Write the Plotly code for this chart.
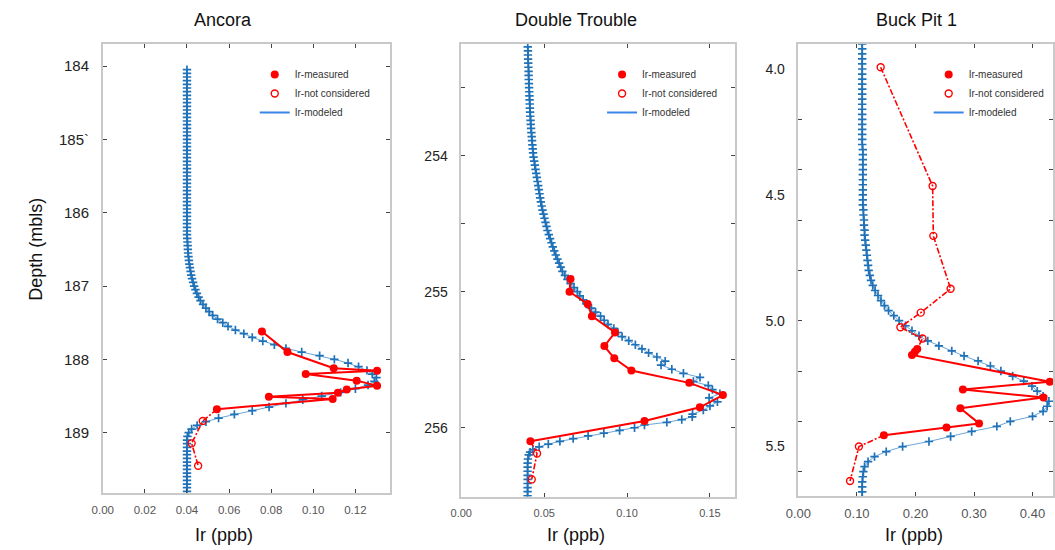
import plotly.graph_objects as go

# ---------------- Ancora ----------------
anc_model_depth = [
    184.05, 184.10, 184.15, 184.20, 184.25, 184.30, 184.35, 184.40, 184.45, 184.50,
    184.55, 184.60, 184.65, 184.70, 184.75, 184.80, 184.85, 184.90, 184.95, 185.00,
    185.05, 185.10, 185.15, 185.20, 185.25, 185.30, 185.35, 185.40, 185.45, 185.50,
    185.55, 185.60, 185.65, 185.70, 185.75, 185.80, 185.85, 185.90, 185.95, 186.00,
    186.05, 186.10, 186.15, 186.20, 186.25, 186.30,
    186.35, 186.40, 186.45, 186.50, 186.55, 186.60, 186.65, 186.70, 186.75, 186.80,
    186.85, 186.90, 186.95, 187.00, 187.05, 187.10, 187.15, 187.20, 187.25, 187.30,
    187.35, 187.40, 187.45, 187.50, 187.55, 187.60, 187.65, 187.70, 187.75, 187.80,
    187.85, 187.90, 187.95, 188.00, 188.05, 188.10, 188.15, 188.20, 188.25, 188.30,
    188.35, 188.40, 188.45, 188.50, 188.55, 188.60, 188.65, 188.70, 188.75, 188.80,
    188.85, 188.90, 188.95, 189.00, 189.05, 189.10,
    189.15, 189.20, 189.25, 189.30, 189.35, 189.40, 189.45, 189.50, 189.55, 189.60,
    189.65, 189.70, 189.75, 189.80,
]
anc_model_ir = [
    0.040, 0.040, 0.040, 0.040, 0.040, 0.040, 0.040, 0.040, 0.040, 0.040,
    0.040, 0.040, 0.040, 0.040, 0.040, 0.040, 0.040, 0.040, 0.040, 0.040,
    0.040, 0.040, 0.040, 0.040, 0.040, 0.040, 0.040, 0.040, 0.040, 0.040,
    0.040, 0.040, 0.040, 0.040, 0.040, 0.040, 0.040, 0.040, 0.040, 0.040,
    0.040, 0.040, 0.040, 0.040, 0.040, 0.040,
    0.0401, 0.0402, 0.0403, 0.0404, 0.0405, 0.0407, 0.0409, 0.0411, 0.0414, 0.0417,
    0.0420, 0.0424, 0.0429, 0.0434, 0.0440, 0.0447, 0.0455, 0.0464, 0.0476, 0.0490,
    0.0505, 0.0522, 0.0545, 0.0570, 0.0595, 0.0630, 0.0670, 0.0710, 0.0760, 0.0815,
    0.0870, 0.0945, 0.1030, 0.1100, 0.1165, 0.1215, 0.1255, 0.1280, 0.1300, 0.1290,
    0.1260, 0.1200, 0.1130, 0.1040, 0.0950, 0.0870, 0.0790, 0.0710, 0.0625, 0.0550,
    0.0490, 0.0448, 0.0422, 0.0408, 0.0402, 0.0400,
    0.040, 0.040, 0.040, 0.040, 0.040, 0.040, 0.040, 0.040, 0.040, 0.040,
    0.040, 0.040, 0.040, 0.040,
]
anc_meas_depth = [187.62, 187.90, 188.12, 188.155, 188.20, 188.29, 188.36, 188.41, 188.455, 188.51, 188.54, 188.68]
anc_meas_ir = [0.0756, 0.0877, 0.1097, 0.1303, 0.0964, 0.1206, 0.1303, 0.1159, 0.1117, 0.0789, 0.1092, 0.0542]
anc_nc_above_depth = []
anc_nc_above_ir = []
anc_nc_below_depth = [188.84, 189.145, 189.45]
anc_nc_below_ir = [0.0475, 0.0422, 0.0453]

# ---------------- Double Trouble ----------------
dt_model_depth = [
    253.20, 253.23, 253.26, 253.29, 253.32, 253.35, 253.38, 253.41, 253.44, 253.47,
    253.50, 253.53, 253.56, 253.59, 253.62, 253.65, 253.68, 253.71, 253.74, 253.77,
    253.80, 253.83, 253.86, 253.89, 253.92, 253.95, 253.98, 254.01, 254.04, 254.07,
    254.10, 254.13, 254.16, 254.19, 254.22, 254.25, 254.28, 254.31, 254.34, 254.37,
    254.40, 254.43, 254.46, 254.49, 254.52, 254.55, 254.58, 254.61, 254.64, 254.67,
    254.70, 254.73, 254.76, 254.79, 254.82, 254.85, 254.88, 254.91, 254.94, 254.97,
    255.00, 255.03, 255.06, 255.09, 255.12, 255.15, 255.18, 255.21, 255.24, 255.27,
    255.30, 255.33, 255.36, 255.39, 255.42, 255.45, 255.48, 255.51, 255.54, 255.57,
    255.60, 255.63, 255.66, 255.69, 255.72, 255.75, 255.78, 255.81, 255.84, 255.87,
    255.90,
    255.92, 255.94, 255.96, 255.98, 256.00, 256.02, 256.04, 256.06, 256.08, 256.10,
    256.12, 256.14, 256.16, 256.18, 256.20,
    256.23, 256.26, 256.29, 256.32, 256.35, 256.38, 256.41, 256.44, 256.47, 256.50,
]
dt_model_ir = [
    0.0401, 0.0402, 0.0402, 0.0403, 0.0404, 0.0405, 0.0406, 0.0406, 0.0407, 0.0408,
    0.0409, 0.0410, 0.0411, 0.0412, 0.0413, 0.0414, 0.0415, 0.0416, 0.0418, 0.0419,
    0.0421, 0.0423, 0.0425, 0.0427, 0.0429, 0.0431, 0.0433, 0.0436, 0.0440, 0.0444,
    0.0448, 0.0452, 0.0456, 0.0460, 0.0464, 0.0468, 0.0472, 0.0476, 0.0480, 0.0485,
    0.0490, 0.0496, 0.0502, 0.0508, 0.0514, 0.0520, 0.0528, 0.0536, 0.0544, 0.0552,
    0.0561, 0.0570, 0.0580, 0.0590, 0.0600, 0.0610, 0.0625, 0.0640, 0.0660, 0.0680,
    0.0700, 0.0715, 0.0735, 0.0755, 0.0785, 0.0810, 0.0840, 0.0862, 0.0885, 0.0920,
    0.0945, 0.0970, 0.1010, 0.1050, 0.1090, 0.1130, 0.1180, 0.1230, 0.1205, 0.1270,
    0.1340, 0.1440, 0.1400, 0.1490, 0.1515, 0.1560, 0.1495, 0.1545, 0.1500, 0.1460,
    0.1395,
    0.1393, 0.1330, 0.1240, 0.1105, 0.1045, 0.0955, 0.0860, 0.0765, 0.0675, 0.0595,
    0.0525, 0.0470, 0.0432, 0.0415, 0.0407,
    0.0402, 0.0400, 0.0400, 0.0400, 0.0400, 0.0400, 0.0400, 0.0400, 0.0400, 0.0400,
]
dt_meas_depth = [254.906, 255.00, 255.09, 255.18, 255.30, 255.40, 255.49, 255.58, 255.67, 255.76, 255.85, 255.95, 256.10]
dt_meas_ir = [0.0659, 0.0653, 0.0762, 0.0788, 0.0927, 0.0863, 0.0923, 0.1026, 0.1375, 0.1578, 0.1439, 0.1105, 0.0417]
dt_nc_above_depth = []
dt_nc_above_ir = []
dt_nc_below_depth = [256.19, 256.38]
dt_nc_below_ir = [0.0457, 0.0425]

# ---------------- Buck Pit 1 ----------------
bp_model_depth = [
    3.90, 3.92, 3.94, 3.96, 3.98, 4.00, 4.02, 4.04, 4.06, 4.08,
    4.10, 4.12, 4.14, 4.16, 4.18, 4.20, 4.22, 4.24, 4.26, 4.28,
    4.30, 4.32, 4.34, 4.36, 4.38, 4.40, 4.42, 4.44, 4.46, 4.48,
    4.50, 4.52, 4.54, 4.56, 4.58, 4.60, 4.62, 4.64, 4.66, 4.68,
    4.70, 4.72, 4.74, 4.76, 4.78, 4.80, 4.82, 4.84, 4.86, 4.88,
    4.90, 4.92, 4.94, 4.96, 4.98, 5.00, 5.02, 5.04, 5.06, 5.08,
    5.10, 5.12, 5.14, 5.16, 5.18, 5.20, 5.22, 5.24, 5.26, 5.28,
    5.30, 5.32, 5.34, 5.36, 5.38, 5.40, 5.42, 5.44, 5.46, 5.48,
    5.50, 5.52, 5.54, 5.56, 5.58, 5.60, 5.62, 5.64, 5.66, 5.68,
    5.70,
]
bp_model_ir = [
    0.109, 0.109, 0.109, 0.109, 0.109, 0.109, 0.109, 0.109, 0.109, 0.109,
    0.109, 0.109, 0.109, 0.109, 0.109, 0.109, 0.109, 0.109, 0.109, 0.109,
    0.109, 0.110, 0.110, 0.110, 0.110, 0.110, 0.110, 0.110, 0.110, 0.110,
    0.110, 0.110, 0.110, 0.111, 0.111, 0.112, 0.112, 0.113, 0.113, 0.114,
    0.115, 0.116, 0.117, 0.118, 0.119, 0.120, 0.122, 0.124, 0.127, 0.131,
    0.136, 0.141, 0.147, 0.154, 0.163, 0.172, 0.183, 0.194, 0.206, 0.221,
    0.240, 0.262, 0.283, 0.307, 0.328, 0.346, 0.366, 0.385, 0.399, 0.408,
    0.418, 0.428, 0.425, 0.418, 0.400, 0.362, 0.339, 0.296, 0.260, 0.223,
    0.178, 0.150, 0.130, 0.119, 0.113, 0.111, 0.110, 0.109, 0.109, 0.109,
    0.109,
]
bp_meas_depth = [5.112, 5.123, 5.136, 5.243, 5.273, 5.305, 5.348, 5.408, 5.424, 5.455]
bp_meas_ir = [0.203, 0.199, 0.194, 0.4295, 0.281, 0.4187, 0.2766, 0.3086, 0.253, 0.146]
bp_nc_above_depth = [3.993, 4.465, 4.663, 4.873, 4.968, 5.026, 5.071]
bp_nc_above_ir = [0.1405, 0.2293, 0.2305, 0.260, 0.209, 0.1742, 0.212]
bp_nc_below_depth = [5.50, 5.637]
bp_nc_below_ir = [0.1034, 0.0882]

site_names = ["Ancora", "Double Trouble", "Buck Pit 1"]
legend_labels = ["Ir-measured", "Ir-not considered", "Ir-modeled"]

RED = "#ff0000"
BLUE_MARK = "#1f72b8"
BLUE_LINE = "#6aa6da"
LEG_BLUE = "#3a86e8"
FONT = "Arial, Liberation Sans, Helvetica, sans-serif"

sites = [
    (anc_model_depth, anc_model_ir, anc_meas_depth, anc_meas_ir,
     anc_nc_above_depth, anc_nc_above_ir, anc_nc_below_depth, anc_nc_below_ir),
    (dt_model_depth, dt_model_ir, dt_meas_depth, dt_meas_ir,
     dt_nc_above_depth, dt_nc_above_ir, dt_nc_below_depth, dt_nc_below_ir),
    (bp_model_depth, bp_model_ir, bp_meas_depth, bp_meas_ir,
     bp_nc_above_depth, bp_nc_above_ir, bp_nc_below_depth, bp_nc_below_ir),
]

W, H = 1055, 550
# plot-area pixel boxes (left, right, top, bottom)
boxes = [(91, 382, 44, 493), (454.3, 731.7, 44, 496.7), (796, 1054, 44, 496)]
xranges = [[0, 0.1364], [0, 0.1651], [0, 0.435]]
yranges = [[189.822, 183.70], [256.507, 253.179], [5.6965, 3.9007]]
xtick_font = [11.5, 11, 13]
ytick_font = [15, 14, 14]

fig = go.Figure()

for i, (md, mi, sd, si, ad, ai, bd, bi) in enumerate(sites):
    ax = "" if i == 0 else str(i + 1)
    xa, ya = "x" + ax, "y" + ax
    leg = "legend" if i == 0 else "legend" + str(i + 1)
    # modeled curve
    fig.add_trace(go.Scatter(
        x=mi, y=md, xaxis=xa, yaxis=ya, mode="lines+markers",
        line=dict(color=BLUE_LINE, width=1),
        marker=dict(symbol="cross-thin", size=6, color=BLUE_MARK,
                    line=dict(width=1.7, color=BLUE_MARK)),
        showlegend=False, hoverinfo="skip"))
    # dashed links for not-considered samples
    if ad:
        fig.add_trace(go.Scatter(
            x=ai + [si[0]], y=ad + [sd[0]], xaxis=xa, yaxis=ya, mode="lines",
            line=dict(color=RED, width=1.6, dash="6px,2px,2px,2px"),
            showlegend=False, hoverinfo="skip"))
    if bd:
        fig.add_trace(go.Scatter(
            x=[si[-1]] + bi, y=[sd[-1]] + bd, xaxis=xa, yaxis=ya, mode="lines",
            line=dict(color=RED, width=1.6, dash="6px,2px,2px,2px"),
            showlegend=False, hoverinfo="skip"))
    # measured
    fig.add_trace(go.Scatter(
        x=si, y=sd, xaxis=xa, yaxis=ya, mode="lines+markers",
        line=dict(color=RED, width=2),
        marker=dict(symbol="circle", size=8, color=RED),
        showlegend=False))
    # not considered markers
    fig.add_trace(go.Scatter(
        x=ai + bi, y=ad + bd, xaxis=xa, yaxis=ya, mode="markers",
        marker=dict(symbol="circle-open", size=7, color=RED, line=dict(width=1.4)),
        showlegend=False))
    # legend entries
    fig.add_trace(go.Scatter(x=[None], y=[None], xaxis=xa, yaxis=ya, mode="markers",
                             marker=dict(symbol="circle", size=8, color=RED),
                             name=legend_labels[0], legend=leg))
    fig.add_trace(go.Scatter(x=[None], y=[None], xaxis=xa, yaxis=ya, mode="markers",
                             marker=dict(symbol="circle-open", size=7, color=RED, line=dict(width=1.4)),
                             name=legend_labels[1], legend=leg))
    fig.add_trace(go.Scatter(x=[None], y=[None], xaxis=xa, yaxis=ya, mode="lines",
                             line=dict(color=LEG_BLUE, width=2),
                             name=legend_labels[2], legend=leg))

axis_common = dict(showline=True, linecolor="#c9c9c9", linewidth=1.5, mirror="ticks",
                   ticks="inside", ticklen=4, tickcolor="#444", tickwidth=1,
                   showgrid=False, zeroline=False)

layout = dict(width=W, height=H, margin=dict(l=0, r=0, t=0, b=0),
              plot_bgcolor="white", paper_bgcolor="white",
              font=dict(family=FONT, color="#222"))

xticks = [dict(dtick=0.02, tickformat=".2f"), dict(dtick=0.05, tickformat=".2f"),
          dict(dtick=0.1, tickformat=".2f")]
yticks = [
    dict(tickmode="array", tickvals=[184, 185, 186, 187, 188, 189],
         ticktext=["184", "185`", "186", "187", "188", "189"]),
    dict(tickmode="array", tickvals=[254, 255, 256], ticktext=["254", "255", "256"],
         minor=dict(ticks="inside", ticklen=4, tickcolor="#444", tick0=253.5, dtick=0.5)),
    dict(tickmode="array", tickvals=[4.0, 4.5, 5.0, 5.5], ticktext=["4.0", "4.5", "5.0", "5.5"],
         ticks="", minor=dict(ticks="inside", ticklen=4, tickcolor="#444", tickmode="array",
                               tickvals=[4.2, 4.4, 4.6, 4.8, 5.0, 5.2, 5.4, 5.6])),
]

legend_x = [245, 597, 928]
for i in range(3):
    ax = "" if i == 0 else str(i + 1)
    l, r, t, b = boxes[i]
    xa = dict(axis_common)
    xa.update(domain=[l / W, r / W], range=xranges[i], anchor="y" + ax,
              ticklabelstandoff=5,
              tickfont=dict(family=FONT, size=xtick_font[i], color="#555"))
    xa.update(xticks[i])
    ya = dict(axis_common)
    ya.update(domain=[1 - b / H, 1 - t / H], range=yranges[i], anchor="x" + ax,
              ticklabelstandoff=9,
              tickfont=dict(family=FONT, size=ytick_font[i], color="#222"))
    ya.update(yticks[i])
    layout["xaxis" + ax] = xa
    layout["yaxis" + ax] = ya
    leg = "legend" if i == 0 else "legend" + str(i + 1)
    layout[leg] = dict(x=legend_x[i] / W, y=1 - 60 / H, xanchor="left", yanchor="top",
                       bgcolor="rgba(0,0,0,0)", font=dict(family=FONT, size=10, color="#333"),
                       itemwidth=30, tracegroupgap=0)

title_x = [213, 571, 916]
axis_title_x = [214, 571, 913]
ann = []
for i in range(3):
    ann.append(dict(text=site_names[i], x=title_x[i] / W, y=1 - 20 / H, xref="paper", yref="paper",
                    showarrow=False, font=dict(family=FONT, size=18, color="#111"),
                    xanchor="center", yanchor="middle"))
    ann.append(dict(text="Ir (ppb)", x=axis_title_x[i] / W, y=1 - 535 / H, xref="paper", yref="paper",
                    showarrow=False, font=dict(family=FONT, size=18, color="#111"),
                    xanchor="center", yanchor="middle"))
ann.append(dict(text="Depth (mbls)", x=23 / W, y=1 - 249 / H, xref="paper", yref="paper",
                showarrow=False, textangle=-90, font=dict(family=FONT, size=18, color="#111"),
                xanchor="center", yanchor="middle"))
layout["annotations"] = ann

fig.update_layout(**layout)
fig.write_html("out.html", config={"displayModeBar": False},
               post_script="document.body.style.margin='0px';document.body.style.overflow='hidden';")
